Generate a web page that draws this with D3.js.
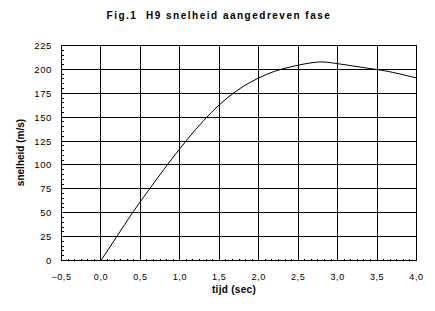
<!DOCTYPE html>
<html>
<head>
<meta charset="utf-8">
<script src="https://cdn.jsdelivr.net/npm/d3@7"></script>
<style>
  body { margin: 0; background: #fff; }
  text { font-family: Arial, "Liberation Sans", sans-serif; fill: #000; }
  .grid line, .frame, .minor line { stroke: #000; stroke-width: 1; shape-rendering: crispEdges; }
</style>
</head>
<body>
<div id="chart"></div>
<script>
// data
var timeSec = [0, 0.2, 0.4, 0.6, 0.8, 1.0, 1.2, 1.4, 1.6, 1.8, 2.0, 2.2, 2.4, 2.6, 2.8, 3.0, 3.2, 3.4, 3.6, 3.8, 4.0];
var speed = [0, 25, 50, 73, 95.5, 117, 137, 155, 170, 182, 191, 198, 202.5, 206, 207.8, 206, 203.5, 201, 198.5, 195, 191];
var xTicks = [-0.5, 0, 0.5, 1.0, 1.5, 2.0, 2.5, 3.0, 3.5, 4.0];
var yTicks = [0, 25, 50, 75, 100, 125, 150, 175, 200, 225];
var titleText = "Fig.1  H9 snelheid aangedreven fase";
var xTitle = "tijd (sec)";
var yTitle = "snelheid (m/s)";

var width = 435, height = 311;
var plot = {left: 61.5, right: 416.5, top: 45.5, bottom: 260.5};

var svg = d3.select("#chart").append("svg")
    .attr("width", width)
    .attr("height", height);

var x = d3.scaleLinear().domain([-0.5, 4.0]).range([plot.left, plot.right]);
var y = d3.scaleLinear().domain([0, 225]).range([plot.bottom, plot.top]);

// grid lines on the major ticks
var grid = svg.append("g").attr("class", "grid");
grid.selectAll(".vx").data(xTicks).enter().append("line")
    .attr("x1", function (d) { return x(d); })
    .attr("x2", function (d) { return x(d); })
    .attr("y1", plot.top).attr("y2", plot.bottom);
grid.selectAll(".hy").data(yTicks).enter().append("line")
    .attr("x1", plot.left).attr("x2", plot.right)
    .attr("y1", function (d) { return y(d); })
    .attr("y2", function (d) { return y(d); });

// minor ticks: 6 steps per half second, 5 steps per 25
var minorX = d3.range(-0.5, 4.0001, 0.5 / 6);
var minorY = d3.range(0, 225.001, 5);
var minor = svg.append("g").attr("class", "minor");
minor.selectAll(".mx").data(minorX).enter().append("line")
    .attr("x1", function (d) { return Math.round(x(d) - 0.5) + 0.5; })
    .attr("x2", function (d) { return Math.round(x(d) - 0.5) + 0.5; })
    .attr("y1", plot.bottom).attr("y2", plot.bottom - 2);
minor.selectAll(".my").data(minorY).enter().append("line")
    .attr("x1", plot.left).attr("x2", plot.left + 2)
    .attr("y1", function (d) { return Math.round(y(d) - 0.5) + 0.5; })
    .attr("y2", function (d) { return Math.round(y(d) - 0.5) + 0.5; });

svg.append("rect").attr("class", "frame")
    .attr("x", plot.left).attr("y", plot.top)
    .attr("width", plot.right - plot.left)
    .attr("height", plot.bottom - plot.top)
    .attr("fill", "none");

// tick labels
svg.append("g").selectAll("text").data(xTicks).enter().append("text")
    .attr("x", function (d) { return x(d); })
    .attr("y", 279.5)
    .attr("text-anchor", "middle")
    .style("font-size", "9px")
    .style("letter-spacing", "0.6px")
    .text(function (d) { return d3.format(".1f")(d).replace(".", ","); });

svg.append("g").selectAll("text").data(yTicks).enter().append("text")
    .attr("x", 52)
    .attr("y", function (d) { return y(d) + 3.5; })
    .attr("text-anchor", "end")
    .style("font-size", "9.5px")
    .style("letter-spacing", "0.6px")
    .text(function (d) { return d; });

// the curve
var line = d3.line()
    .x(function (d, i) { return x(timeSec[i]); })
    .y(function (d) { return y(d); })
    .curve(d3.curveMonotoneX);

svg.append("path")
    .datum(speed)
    .attr("d", line)
    .attr("fill", "none")
    .attr("stroke", "#000")
    .attr("stroke-width", 1);

// titles
svg.append("text")
    .attr("x", 219).attr("y", 19)
    .attr("text-anchor", "middle")
    .style("font-size", "10px")
    .style("font-weight", "bold")
    .style("letter-spacing", "1.5px")
    .attr("xml:space", "preserve")
    .text(titleText);

svg.append("text")
    .attr("x", 234).attr("y", 292.5)
    .attr("text-anchor", "middle")
    .style("font-size", "10px")
    .style("font-weight", "bold")
    .style("letter-spacing", "0.3px")
    .text(xTitle);

svg.append("text")
    .attr("transform", "translate(23.5,152.5) rotate(-90)")
    .attr("text-anchor", "middle")
    .style("font-size", "10px")
    .style("font-weight", "bold")
    .text(yTitle);
</script>
</body>
</html>
